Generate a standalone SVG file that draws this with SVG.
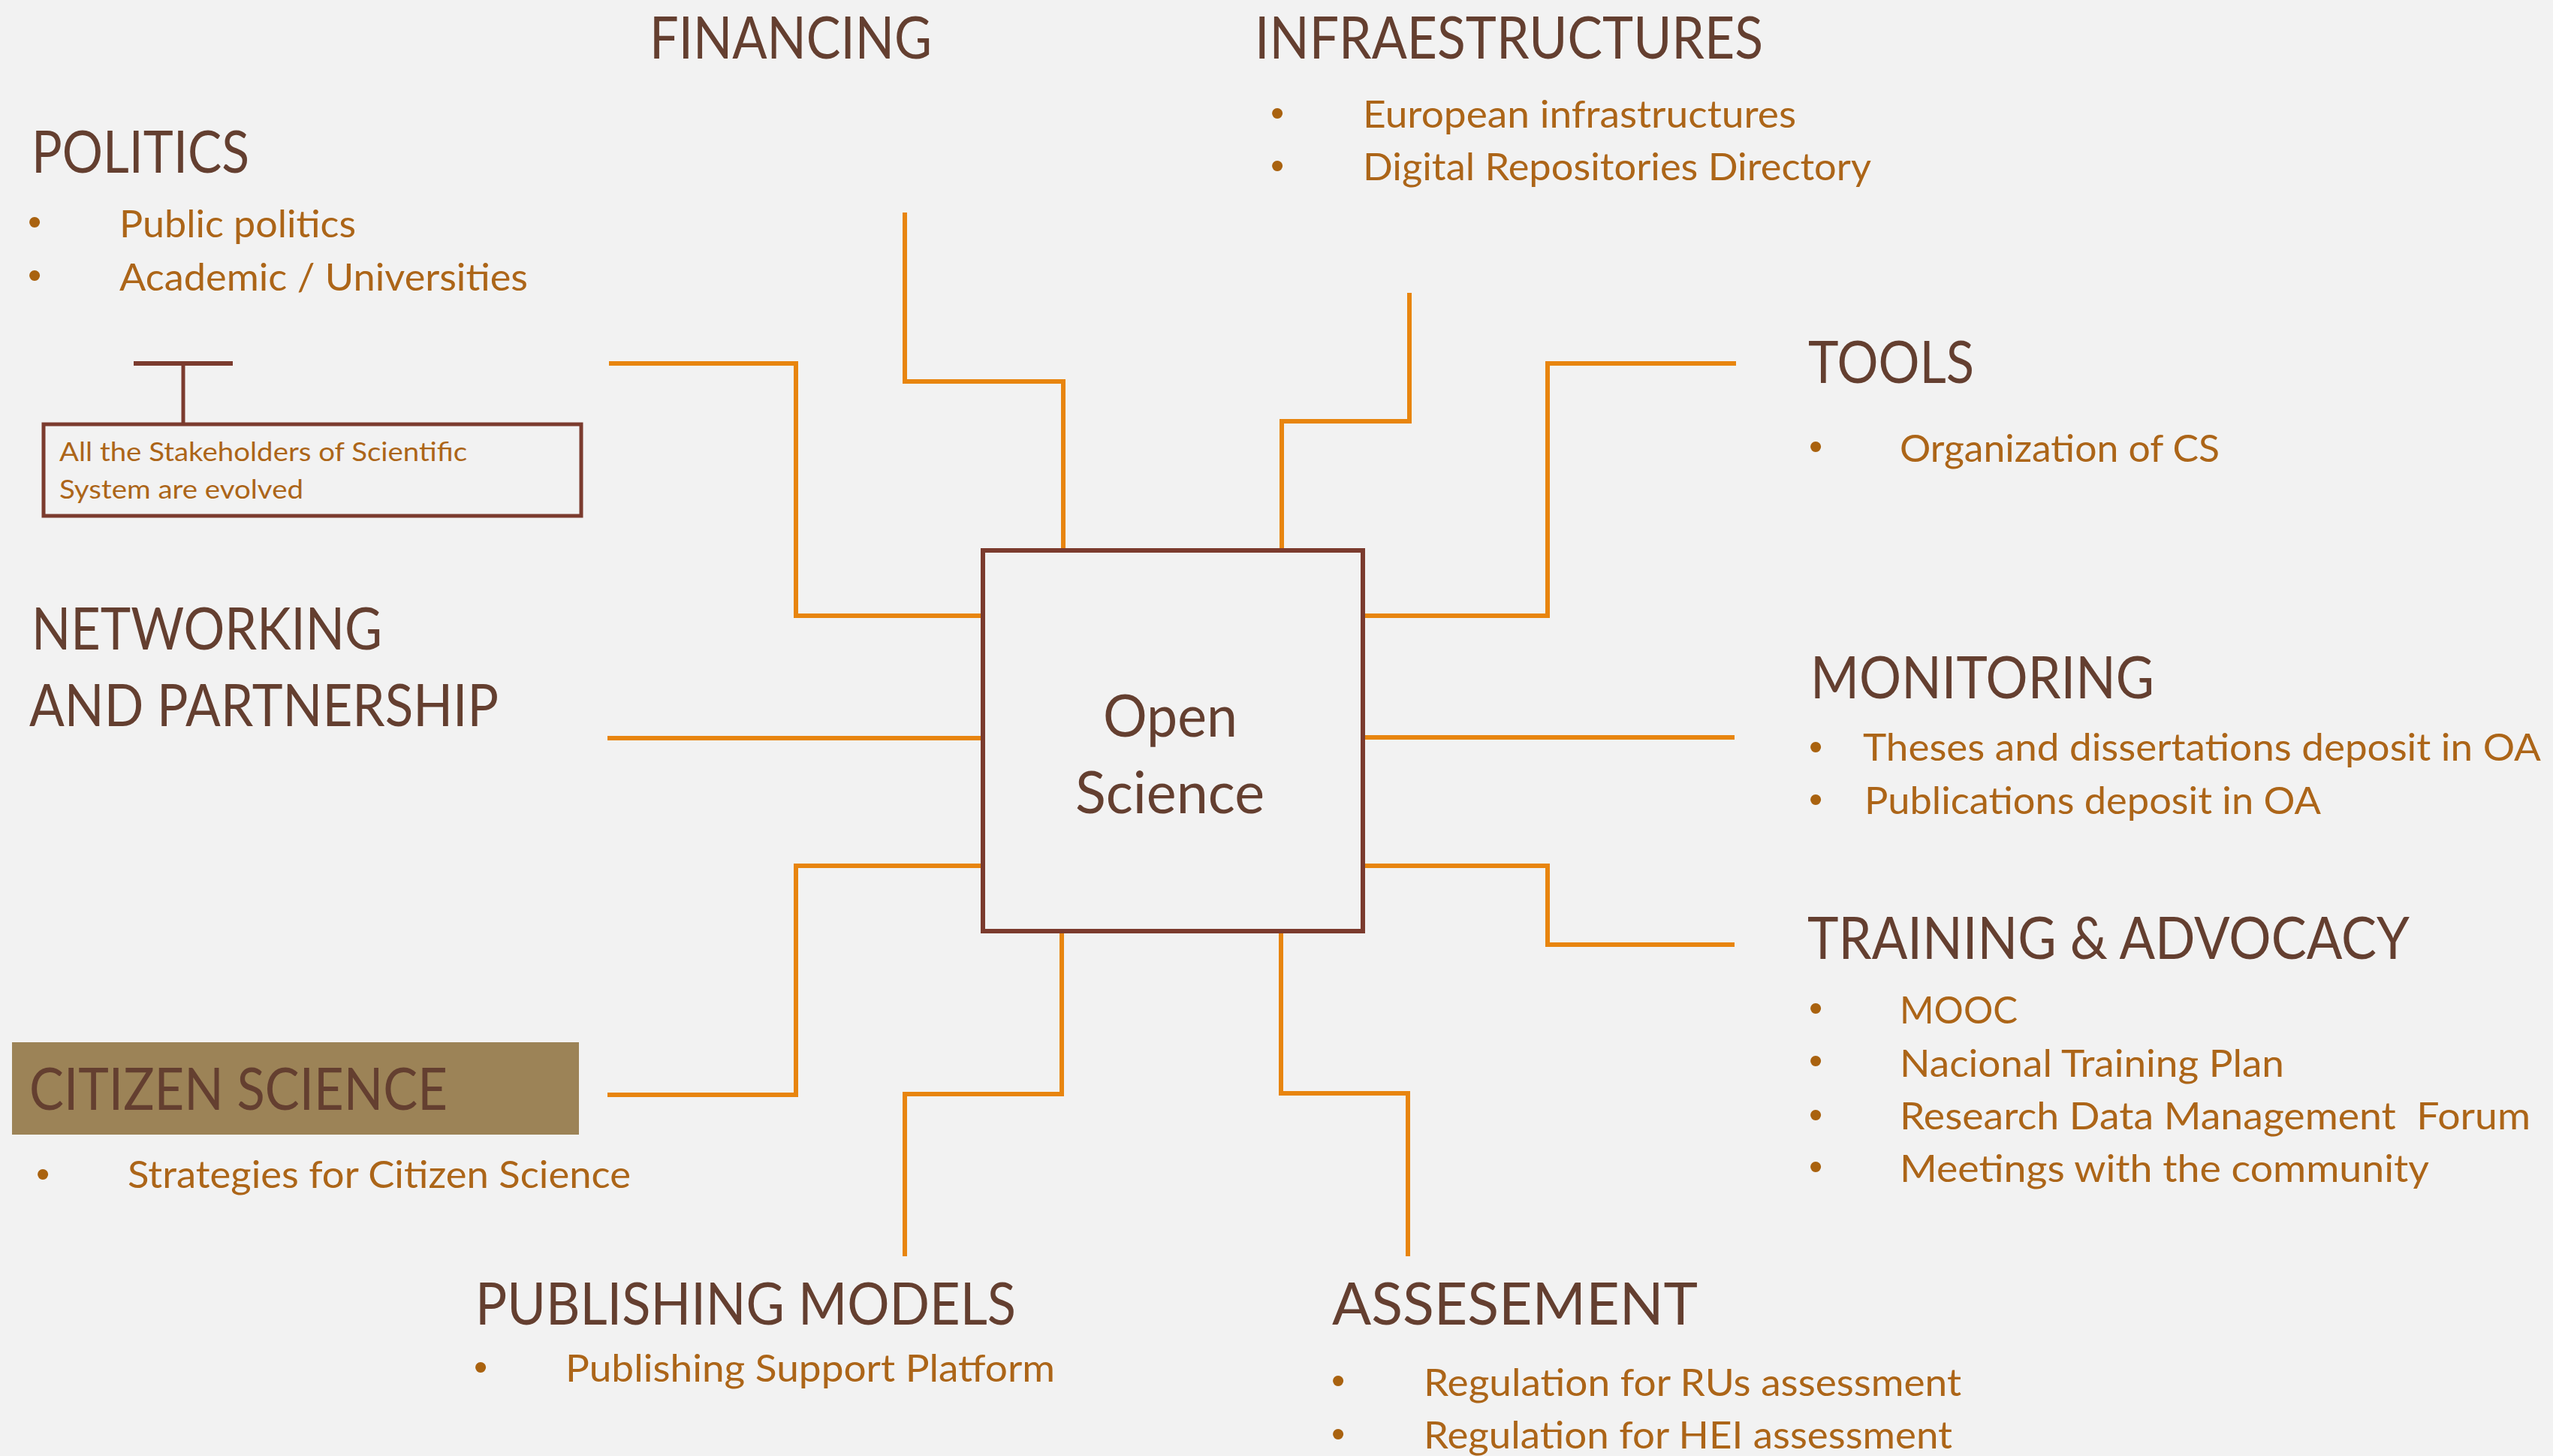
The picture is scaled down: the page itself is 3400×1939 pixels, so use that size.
<svg xmlns="http://www.w3.org/2000/svg" width="3400" height="1939" viewBox="0 0 3400 1939">
<defs>
<style>
.bg{fill:#F2F2F2}
.con{fill:none;stroke:#E8850F;stroke-width:6;stroke-linejoin:miter}
.frame{fill:none;stroke:#7B3B2E;stroke-width:6}
.h{font-family:Lato,"Open Sans",sans-serif;font-size:78px;fill:#643F30}
.s{font-family:Lato,"Open Sans",sans-serif;font-size:51px;fill:#AC6518}
.c{font-family:Lato,"Open Sans",sans-serif;font-size:35px;fill:#AC6518}
.b{font-family:"Liberation Sans",Arial,sans-serif;font-size:52px;fill:#A9620F;text-anchor:middle}
</style>
</defs>
<rect class="bg" x="0" y="0" width="3400" height="1939"/>
<g id="connectors">
<path class="con" d="M811,484 H1060 V820 H1309"/>
<path class="con" d="M1205,283 V508 H1416 V733"/>
<path class="con" d="M1877,390 V561 H1707 V733"/>
<path class="con" d="M2312,484 H2061 V820 H1815"/>
<path class="con" d="M809,983 H1309"/>
<path class="con" d="M1815,982 H2310"/>
<path class="con" d="M809,1458 H1060 V1153 H1309"/>
<path class="con" d="M1815,1153 H2061 V1258 H2310"/>
<path class="con" d="M1414,1240 V1457 H1205 V1673"/>
<path class="con" d="M1706,1240 V1456 H1875 V1673"/>
</g>
<g id="open-science">
<rect class="frame" x="1309" y="733" width="506" height="507"/>
<text class="h" x="1469" y="981" textLength="179" lengthAdjust="spacingAndGlyphs">Open</text>
<text class="h" x="1432" y="1083" textLength="252" lengthAdjust="spacingAndGlyphs">Science</text>
</g>
<g id="financing">
<text class="h" x="865" y="78" textLength="376" lengthAdjust="spacingAndGlyphs">FINANCING</text>
</g>
<g id="infraestructures">
<text class="h" x="1671" y="78" textLength="677" lengthAdjust="spacingAndGlyphs">INFRAESTRUCTURES</text>
<text class="b" x="1701" y="168">•</text>
<text class="s" x="1815" y="170" textLength="577" lengthAdjust="spacingAndGlyphs">European infrastructures</text>
<text class="b" x="1701" y="238">•</text>
<text class="s" x="1815" y="240" textLength="677" lengthAdjust="spacingAndGlyphs">Digital Repositories Directory</text>
</g>
<g id="politics">
<text class="h" x="42" y="230" textLength="290" lengthAdjust="spacingAndGlyphs">POLITICS</text>
<text class="b" x="46" y="313">•</text>
<text class="s" x="159" y="316" textLength="315" lengthAdjust="spacingAndGlyphs">Public politics</text>
<text class="b" x="46" y="384">•</text>
<text class="s" x="159" y="387" textLength="544" lengthAdjust="spacingAndGlyphs">Academic / Universities</text>
</g>
<g id="stakeholders">
<line x1="178" y1="484" x2="310" y2="484" stroke="#7B3B2E" stroke-width="6"/>
<line x1="244" y1="484" x2="244" y2="565" stroke="#7B3B2E" stroke-width="5"/>
<rect x="58" y="565" width="716" height="122" fill="none" stroke="#7B3B2E" stroke-width="5"/>
<text class="c" x="79" y="614" textLength="543" lengthAdjust="spacingAndGlyphs">All the Stakeholders of Scientific</text>
<text class="c" x="79" y="664" textLength="325" lengthAdjust="spacingAndGlyphs">System are evolved</text>
</g>
<g id="tools">
<text class="h" x="2408" y="510" textLength="221" lengthAdjust="spacingAndGlyphs">TOOLS</text>
<text class="b" x="2418" y="612">•</text>
<text class="s" x="2530" y="615" textLength="426" lengthAdjust="spacingAndGlyphs">Organization of CS</text>
</g>
<g id="networking">
<text class="h" x="42" y="865" textLength="467" lengthAdjust="spacingAndGlyphs">NETWORKING</text>
<text class="h" x="39" y="967" textLength="625" lengthAdjust="spacingAndGlyphs">AND PARTNERSHIP</text>
</g>
<g id="monitoring">
<text class="h" x="2411" y="930" textLength="458" lengthAdjust="spacingAndGlyphs">MONITORING</text>
<text class="b" x="2418" y="1012">•</text>
<text class="s" x="2481" y="1013" textLength="903" lengthAdjust="spacingAndGlyphs">Theses and dissertations deposit in OA</text>
<text class="b" x="2418" y="1082">•</text>
<text class="s" x="2483" y="1084" textLength="608" lengthAdjust="spacingAndGlyphs">Publications deposit in OA</text>
</g>
<g id="training">
<text class="h" x="2407" y="1277" textLength="802" lengthAdjust="spacingAndGlyphs">TRAINING &amp; ADVOCACY</text>
<text class="b" x="2418" y="1360">•</text>
<text class="s" x="2530" y="1363" textLength="157" lengthAdjust="spacingAndGlyphs">MOOC</text>
<text class="b" x="2418" y="1430">•</text>
<text class="s" x="2530" y="1434" textLength="512" lengthAdjust="spacingAndGlyphs">Nacional Training Plan</text>
<text class="b" x="2418" y="1502">•</text>
<text class="s" x="2530" y="1504" textLength="840" lengthAdjust="spacingAndGlyphs" xml:space="preserve">Research Data Management  Forum</text>
<text class="b" x="2418" y="1571">•</text>
<text class="s" x="2530" y="1574" textLength="705" lengthAdjust="spacingAndGlyphs">Meetings with the community</text>
</g>
<g id="citizen-science">
<rect x="16" y="1388" width="755" height="123" fill="#9C8357"/>
<text class="h" x="39" y="1478" textLength="557" lengthAdjust="spacingAndGlyphs">CITIZEN SCIENCE</text>
<text class="b" x="57" y="1581">•</text>
<text class="s" x="170" y="1582" textLength="670" lengthAdjust="spacingAndGlyphs">Strategies for Citizen Science</text>
</g>
<g id="publishing-models">
<text class="h" x="633" y="1764" textLength="720" lengthAdjust="spacingAndGlyphs">PUBLISHING MODELS</text>
<text class="b" x="640" y="1838">•</text>
<text class="s" x="753" y="1840" textLength="652" lengthAdjust="spacingAndGlyphs">Publishing Support Platform</text>
</g>
<g id="assessement">
<text class="h" x="1774" y="1764" textLength="487" lengthAdjust="spacingAndGlyphs">ASSESEMENT</text>
<text class="b" x="1782" y="1856">•</text>
<text class="s" x="1896" y="1859" textLength="716" lengthAdjust="spacingAndGlyphs">Regulation for RUs assessment</text>
<text class="b" x="1782" y="1927">•</text>
<text class="s" x="1896" y="1929" textLength="704" lengthAdjust="spacingAndGlyphs">Regulation for HEI assessment</text>
</g>
</svg>
